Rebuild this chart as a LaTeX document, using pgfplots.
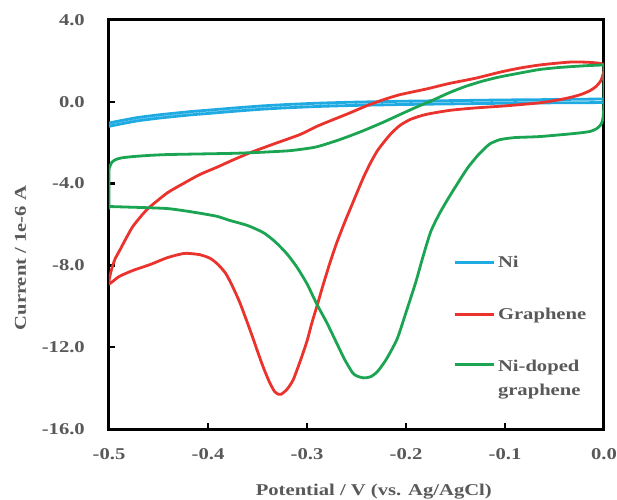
\documentclass[border=0pt]{standalone}
\usepackage{fontspec}
\setmainfont{Liberation Serif}[FakeStretch=1.25]
\usepackage{pgfplots}
\pgfplotsset{compat=1.18}
\definecolor{niblue}{RGB}{32,170,226}
\definecolor{grred}{RGB}{234,51,45}
\definecolor{ngreen}{RGB}{27,164,82}
\definecolor{txtgray}{RGB}{89,89,89}
\pgfplotsset{shiftedlegend/.style={legend image code/.code={\draw[##1, line width=2.8bp] (0bp,13.5bp) -- (39bp,13.5bp);}}}
\begin{document}
\begin{tikzpicture}
\useasboundingbox (-109bp,-71bp) rectangle (508bp,429bp);
\begin{axis}[
  at={(0,0)}, anchor=south west,
  scale only axis, width=495bp, height=409bp,
  xmin=-0.5, xmax=0.0, ymin=-16, ymax=4,
  xtick={-0.5,-0.4,-0.3,-0.2,-0.1,0.0},
  xticklabels={-0.5,-0.4,-0.3,-0.2,-0.1,0.0},
  ytick={-16,-12,-8,-4,0,4},
  yticklabels={-16.0,-12.0,-8.0,-4.0,0.0,4.0},
  tick align=inside, xtick pos=bottom, ytick pos=left,
  major tick length=6bp,
  tick style={line width=2.5bp, black},
  axis line style={line width=3bp, black},
  ticklabel style={font=\fontsize{16.5bp}{20bp}\selectfont\bfseries, text=txtgray, inner sep=0pt},
  yticklabel style={anchor=east, xshift=-24bp},
  xticklabel style={anchor=north, yshift=-19bp},
  xlabel={Potential / V (vs. Ag/AgCl)},
  ylabel={Current / 1e-6 A},
  label style={font=\fontsize{16.5bp}{20bp}\selectfont\bfseries, text=txtgray, inner sep=0pt},
  xlabel style={at={(axis description cs:0.535,-0.152)}, anchor=center},
  ylabel style={at={(axis description cs:-0.179,0.418)}, anchor=center},
  legend cell align=left,
  legend style={at={(axis description cs:0.695,0.4237)}, anchor=north west, draw=none, fill=none,
    inner sep=0pt, row sep=39bp, column sep=3bp,
    font=\fontsize{16.5bp}{20bp}\selectfont\bfseries, text=txtgray,
    nodes={inner sep=0pt, align=left}},
  legend image code/.code={\draw[#1, line width=2.8bp] (0bp,0bp) -- (39bp,0bp);},
]
% Ni (two close branches)
\addplot[niblue, line width=2.8bp, smooth, tension=0.3] coordinates {
(-0.500,-1.04) (-0.490,-0.94) (-0.471,-0.77) (-0.450,-0.64) (-0.420,-0.49) (-0.400,-0.41)
(-0.370,-0.29) (-0.345,-0.20) (-0.319,-0.13) (-0.290,-0.07) (-0.255,-0.02) (-0.200,0.03)
(-0.150,0.06) (-0.100,0.09) (-0.050,0.11) (0.000,0.13)
(0.000,-0.03) (-0.050,-0.05) (-0.100,-0.07) (-0.150,-0.10) (-0.200,-0.13) (-0.255,-0.18)
(-0.290,-0.23) (-0.319,-0.29) (-0.345,-0.36) (-0.370,-0.45) (-0.400,-0.57) (-0.420,-0.65)
(-0.450,-0.80) (-0.471,-0.93) (-0.490,-1.10) (-0.500,-1.20)
};
\addlegendentry{Ni}
% Graphene
\addplot[grred, line width=2.8bp, smooth, tension=0.4] coordinates {
(0.000,1.50) (-0.003,1.05) (-0.008,0.75) (-0.014,0.55) (-0.022,0.38) (-0.031,0.25)
(-0.045,0.10) (-0.065,-0.05) (-0.100,-0.20) (-0.130,-0.30) (-0.156,-0.42) (-0.180,-0.62)
(-0.195,-0.85) (-0.206,-1.15) (-0.215,-1.55) (-0.222,-1.95) (-0.229,-2.40) (-0.236,-3.00)
(-0.243,-3.70) (-0.250,-4.50) (-0.256,-5.20) (-0.262,-5.90) (-0.270,-6.90) (-0.277,-7.90)
(-0.284,-9.00) (-0.290,-10.00) (-0.295,-10.80) (-0.300,-11.70) (-0.307,-12.70) (-0.314,-13.60)
(-0.320,-14.05) (-0.326,-14.30) (-0.329,-14.30) (-0.333,-14.15) (-0.338,-13.70) (-0.344,-13.00)
(-0.350,-12.20) (-0.355,-11.50) (-0.361,-10.70) (-0.368,-9.80) (-0.375,-9.05) (-0.382,-8.40)
(-0.390,-7.95) (-0.398,-7.65) (-0.408,-7.48) (-0.418,-7.42) (-0.425,-7.42) (-0.441,-7.62)
(-0.458,-7.95) (-0.476,-8.25) (-0.490,-8.55) (-0.500,-8.90)
(-0.498,-8.30) (-0.494,-7.70) (-0.489,-7.25) (-0.483,-6.70) (-0.476,-6.10) (-0.466,-5.50)
(-0.459,-5.15) (-0.441,-4.45) (-0.425,-4.00) (-0.408,-3.55) (-0.391,-3.20) (-0.375,-2.85)
(-0.358,-2.50) (-0.347,-2.30) (-0.330,-2.00) (-0.307,-1.60) (-0.290,-1.20) (-0.275,-0.90)
(-0.257,-0.55) (-0.240,-0.20) (-0.223,0.10) (-0.206,0.35) (-0.180,0.62) (-0.156,0.90)
(-0.130,1.15) (-0.105,1.45) (-0.085,1.65) (-0.065,1.80) (-0.045,1.90) (-0.031,1.95)
(-0.015,1.93) (-0.004,1.88) (0.000,1.80) (0.000,1.50)
};
\addlegendentry{Graphene}
% Ni-doped graphene
\addplot[ngreen, line width=2.8bp, shiftedlegend, smooth, tension=0.4] coordinates {
(0.000,1.80) (0.000,0.00) (-0.001,-0.80) (-0.003,-1.10) (-0.007,-1.30) (-0.014,-1.45)
(-0.030,-1.55) (-0.065,-1.70) (-0.090,-1.75) (-0.105,-1.85) (-0.115,-2.05) (-0.122,-2.35)
(-0.128,-2.65) (-0.138,-3.25) (-0.148,-4.00) (-0.157,-4.70) (-0.166,-5.45) (-0.175,-6.35)
(-0.183,-7.60) (-0.190,-8.80) (-0.200,-10.30) (-0.209,-11.60) (-0.220,-12.60) (-0.229,-13.20)
(-0.236,-13.45) (-0.243,-13.50) (-0.250,-13.40) (-0.254,-13.25) (-0.262,-12.60) (-0.270,-11.80)
(-0.280,-10.80) (-0.290,-9.90) (-0.300,-8.90) (-0.310,-8.10) (-0.320,-7.45) (-0.332,-6.85)
(-0.344,-6.40) (-0.360,-6.05) (-0.378,-5.80) (-0.391,-5.60) (-0.408,-5.45) (-0.425,-5.32)
(-0.441,-5.22) (-0.460,-5.18) (-0.480,-5.15) (-0.499,-5.12) (-0.500,-5.10)
(-0.500,-3.40) (-0.499,-3.15) (-0.497,-2.95) (-0.493,-2.82) (-0.487,-2.74) (-0.476,-2.68)
(-0.459,-2.62) (-0.441,-2.58) (-0.408,-2.55) (-0.375,-2.52) (-0.347,-2.47) (-0.320,-2.40)
(-0.307,-2.33) (-0.290,-2.20) (-0.267,-1.85) (-0.245,-1.45) (-0.223,-1.00) (-0.205,-0.60)
(-0.189,-0.25) (-0.172,0.10) (-0.156,0.45) (-0.140,0.75) (-0.122,1.02) (-0.105,1.22)
(-0.080,1.45) (-0.065,1.58) (-0.045,1.68) (-0.020,1.76) (-0.002,1.80) (0.000,1.80)
};
\addlegendentry{Ni-doped\\[4bp]graphene}
\end{axis}
\end{tikzpicture}
\end{document}
